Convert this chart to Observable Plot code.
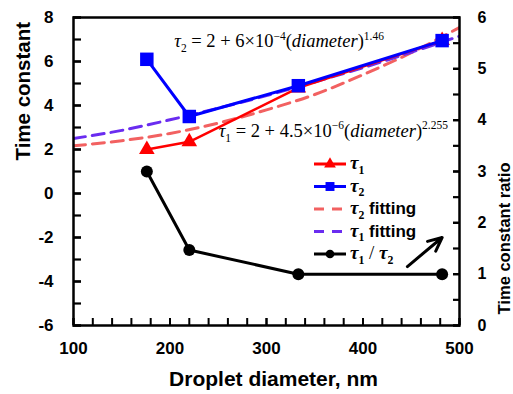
<!DOCTYPE html>
<html><head><meta charset="utf-8">
<script src="https://cdn.jsdelivr.net/npm/d3@7"></script>
<script src="https://cdn.jsdelivr.net/npm/@observablehq/plot@0.6"></script>
<style>
body{margin:0;background:#fff;}
#chart{width:513px;height:394px;}
</style></head><body><div id="chart"></div>
<script>
// ---- data ----
const diameter = [176, 220, 333, 482];
const tau1 = [2.0, 2.35, 4.8, 6.95];
const tau2 = [6.1, 3.5, 4.9, 6.95];
const ratio = [3.0, 1.47, 1.0, 1.0];
const fitDiameter = [100, 150, 200, 250, 300, 350, 400, 450, 500];
const tau2Fit = [2.5, 2.87, 3.35, 3.88, 4.45, 5.07, 5.72, 6.42, 7.15];
const tau1Fit = [2.17, 2.4, 2.73, 3.2, 3.8, 4.5, 5.4, 6.4, 7.55];
const xTicks = [100, 200, 300, 400, 500];
const xMinorTicks = d3.range(100, 501, 20);
const yTicks = [-6, -4, -2, 0, 2, 4, 6, 8];
const yMinorTicks = d3.range(-6, 9, 1);
const ratioTicks = [0, 1, 2, 3, 4, 5, 6];
const ratioMinorTicks = d3.range(0, 6.01, 0.5);
const xTitle = "Droplet diameter, nm";
const yTitle = "Time constant";
const y2Title = "Time constant ratio";
const arrowData = [{x1: 446, y1: -3.32, x2: 482, y2: -2.0}];
const formulaAnchors = [{x: 205, y: 6.62}, {x: 251, y: 2.55}];

const colors = {tau1: "#ff0000", tau2: "#0000ff", tau2Fit: "#f26161", tau1Fit: "#6a2cf0", ratio: "#000000"};
// ratio axis (right) mapped onto left scale: 0..6 -> -6..8
const toLeft = r => -6 + r * 14 / 6;

const pts = diameter.map((d, i) => ({d, t1: tau1[i], t2: tau2[i], r: toLeft(ratio[i])}));
const fits = fitDiameter.map((d, i) => ({d, f1: tau1Fit[i], f2: tau2Fit[i]}));

const sans = "'Liberation Sans', Arial, sans-serif";
const serif = "'Liberation Serif', 'Times New Roman', serif";

const plot = Plot.plot({
  width: 513, height: 394,
  marginLeft: 73, marginRight: 54, marginTop: 17, marginBottom: 69,
  x: {domain: [100, 500]},
  y: {domain: [-6, 8]},
  style: {fontFamily: sans, fontWeight: "bold", fontSize: "17px", color: "#000", background: "#fff", overflow: "visible"},
  marks: [
    Plot.line(fits, {x: "d", y: "f1", stroke: colors.tau2Fit, strokeWidth: 3, strokeDasharray: "12,7", curve: "monotone-x", clip: true}),
    Plot.line(fits, {x: "d", y: "f2", stroke: colors.tau1Fit, strokeWidth: 3, strokeDasharray: "12,7", curve: "monotone-x", clip: true}),
    Plot.line(pts, {x: "d", y: "t1", stroke: colors.tau1, strokeWidth: 2.5}),
    Plot.dot(pts, {x: "d", y: "t1", symbol: "triangle", r: 5.8, fill: colors.tau1}),
    Plot.line(pts, {x: "d", y: "t2", stroke: colors.tau2, strokeWidth: 3}),
    Plot.dot(pts, {x: "d", y: "t2", symbol: "square", r: 7.6, fill: colors.tau2}),
    Plot.line(pts, {x: "d", y: "r", stroke: colors.ratio, strokeWidth: 3}),
    Plot.dot(pts, {x: "d", y: "r", r: 6, fill: colors.ratio}),
    Plot.arrow(arrowData, {x1: "x1", y1: "y1", x2: "x2", y2: "y2", stroke: "#000", strokeWidth: 3, headLength: 13, headAngle: 50}),
    Plot.frame({stroke: "#000", strokeWidth: 2.5}),
    // bottom axis
    Plot.axisX({anchor: "bottom", ticks: xMinorTicks, tickSize: -7, tickFormat: () => "", strokeWidth: 2, label: null}),
    Plot.axisX({anchor: "bottom", ticks: xTicks, tickSize: -7, tickPadding: 23, strokeWidth: 2, fontSize: 17, tickFormat: d => String(d), label: null}),
    // left axis
    Plot.axisY({anchor: "left", ticks: yMinorTicks, tickSize: -8, tickFormat: () => "", strokeWidth: 2.2, label: null}),
    Plot.axisY({anchor: "left", ticks: yTicks, tickSize: -8, tickPadding: 28, strokeWidth: 2.2, fontSize: 17, tickFormat: d => String(d), label: null}),
    // right axis (ratio)
    Plot.axisY({anchor: "right", ticks: ratioMinorTicks.map(toLeft), tickSize: -7, tickFormat: () => "", strokeWidth: 2.2, label: null}),
    Plot.axisY({anchor: "right", ticks: ratioTicks.map(toLeft), tickSize: -7, tickPadding: 25, strokeWidth: 2.2, fontSize: 16, tickFormat: v => String(Math.round((v + 6) * 6 / 14)), label: null}),
    // titles
    Plot.text([xTitle], {frameAnchor: "bottom", dx: 7, dy: 54, text: d => d, fontSize: 21, fontWeight: "bold", lineAnchor: "middle"}),
    Plot.text([yTitle], {frameAnchor: "left", dx: -50, dy: -11, text: d => d, fontSize: 20.5, fontWeight: "bold", rotate: -90, lineAnchor: "middle"}),
    Plot.text([y2Title], {frameAnchor: "right", dx: 45, dy: -9, text: d => d, fontSize: 16.5, fontWeight: "bold", rotate: -90, lineAnchor: "middle"})
  ]
});
document.getElementById("chart").appendChild(plot);

const xs = plot.scale("x"), ys = plot.scale("y");
const svg = d3.select(plot);

function rich(g, x, y, parts, base) {
  const t = g.append("text").attr("x", x).attr("y", y).attr("text-anchor", "start")
    .attr("font-family", serif).attr("font-size", base).attr("font-weight", "normal").attr("fill", "#000");
  let shift = 0;
  for (const p of parts) {
    const target = p.sub ? base * 0.25 : p.sup ? -base * 0.42 : 0;
    const s = t.append("tspan").text(p.t).attr("dy", target - shift);
    shift = target;
    if (p.sub || p.sup) s.attr("font-size", base * 0.62);
    if (p.italic) s.attr("font-style", "italic");
    if (p.family) s.attr("font-family", p.family);
    if (p.bold) s.attr("font-weight", "bold");
    if (p.size) s.attr("font-size", p.size);
  }
  return t;
}

// formulas
const ann = svg.append("g");
rich(ann, xs.apply(formulaAnchors[0].x), ys.apply(formulaAnchors[0].y), [
  {t: "τ", italic: true}, {t: "2", sub: true}, {t: " = 2 + 6×10"}, {t: "−4", sup: true},
  {t: "("}, {t: "diameter", italic: true}, {t: ")"}, {t: "1.46", sup: true}
], 18.5);
rich(ann, xs.apply(formulaAnchors[1].x), ys.apply(formulaAnchors[1].y), [
  {t: "τ", italic: true}, {t: "1", sub: true}, {t: " = 2 + 4.5×10"}, {t: "−6", sup: true},
  {t: "("}, {t: "diameter", italic: true}, {t: ")"}, {t: "2.255", sup: true}
], 18.5);

// legend
const legendItems = [
  {color: colors.tau1, symbol: d3.symbolTriangle, size: 60, dash: null, parts: [{t: "τ", italic: true, bold: true}, {t: "1", sub: true, bold: true}]},
  {color: colors.tau2, symbol: d3.symbolSquare, size: 80, dash: null, parts: [{t: "τ", italic: true, bold: true}, {t: "2", sub: true, bold: true}]},
  {color: colors.tau2Fit, symbol: null, dash: "10,8", parts: [{t: "τ", italic: true, bold: true}, {t: "2", sub: true, bold: true}, {t: " fitting", family: sans, bold: true, size: 17}]},
  {color: colors.tau1Fit, symbol: null, dash: "10,8", parts: [{t: "τ", italic: true, bold: true}, {t: "1", sub: true, bold: true}, {t: " fitting", family: sans, bold: true, size: 17}]},
  {color: colors.ratio, symbol: d3.symbolCircle, size: 60, dash: null, parts: [{t: "τ", italic: true, bold: true}, {t: "1", sub: true, bold: true}, {t: " / "}, {t: "τ", italic: true, bold: true}, {t: "2", sub: true, bold: true}]}
];
const lg = svg.append("g");
legendItems.forEach((it, i) => {
  const yy = 164 + i * 22.5;
  lg.append("line").attr("x1", 314).attr("x2", 346).attr("y1", yy).attr("y2", yy)
    .attr("stroke", it.color).attr("stroke-width", 3).attr("stroke-dasharray", it.dash);
  if (it.symbol) lg.append("path").attr("d", d3.symbol(it.symbol, it.size)()).attr("transform", `translate(330,${yy})`).attr("fill", it.color);
  rich(lg, 350, yy + 5, it.parts, 19);
});
</script></body></html>
